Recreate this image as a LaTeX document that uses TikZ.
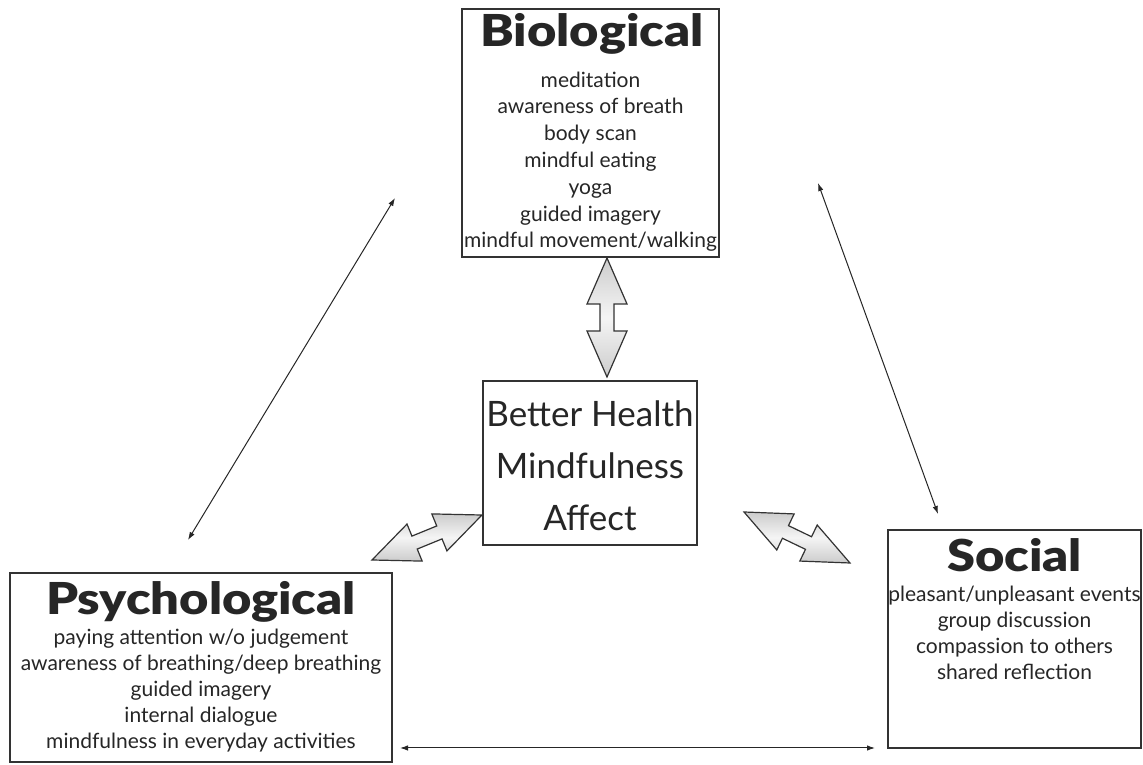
\documentclass[tikz,border=0pt]{standalone}
\usepackage{fontspec}
\setmainfont{Lato}
\IfFontExistsTF{Lato Black}{\newfontfamily\titlefont{Lato Black}[FakeStretch=1.15]}{\newfontfamily\titlefont{Lato}[FakeStretch=1.15,UprightFont=*-Bold]}
\usetikzlibrary{arrows.meta}
\newcommand{\blockarrow}[4]{%
  \begin{scope}[shift={(#1,#2)},rotate=#3]
    \path[blk] (0,0) -- (46,20) -- (46,7) -- ({#4-46},7) -- ({#4-46},20) -- (#4,0)
      -- ({#4-46},-20) -- ({#4-46},-7) -- (46,-7) -- (46,-20) -- cycle;
  \end{scope}}
\begin{document}
\begin{tikzpicture}[x=1pt,y=1pt,
  box/.style={draw=black!80,line width=1.6pt,inner sep=0pt},
  ttl/.style={font=\titlefont\fontsize{44}{48}\selectfont,text=black!85,inner sep=0pt,anchor=base},
  body/.style={text=black!85,inner sep=0pt,align=center,anchor=base},
  ctr/.style={font=\fontsize{35}{52}\selectfont,text=black!85,inner sep=0pt,align=center,anchor=base},
  thinarrow/.style={line width=1pt,draw=black!85,{Latex[length=8pt,width=5.5pt]}-{Latex[length=8pt,width=5.5pt]}},
  blk/.style={draw=black!80,line width=1.2pt,line join=miter,top color=gray!40,bottom color=gray!40,middle color=gray!8}]
\useasboundingbox[fill=white] (0,0) rectangle (1143,765);

% boxes
\node[box,minimum width=257,minimum height=248] (bio) at (590.5,632) {};
\node[box,minimum width=214,minimum height=164] (ctrbox) at (590,302) {};
\node[box,minimum width=382,minimum height=189] (psy) at (201,97.5) {};
\node[box,minimum width=253,minimum height=218] (soc) at (1014.5,126) {};

% texts (base anchor = baseline of last line)
\node[ttl] (biot) at (592,718) {Biological};
\node[body,font=\fontsize{21}{26.8}\selectfont] (biob) at (590.5,517) {meditation\\awareness of breath\\body scan\\mindful eating\\yoga\\guided imagery\\mindful movement/walking};
\node[ctr] (ctrt) at (590,234) {Better Health\\Mindfulness\\Affect};
\node[ttl] (psyt) at (201,150) {Psychological};
\node[body,font=\fontsize{21}{26.2}\selectfont] (psyb) at (201,16) {paying attention w/o judgement\\awareness of breathing/deep breathing\\guided imagery\\internal dialogue\\mindfulness in everyday activities};
\node[ttl] (soct) at (1014.5,193) {Social};
\node[body,font=\fontsize{21}{26}\selectfont] (socb) at (1014.5,85) {pleasant/unpleasant events\\group discussion\\compassion to others\\shared reflection};

% block arrows
\blockarrow{607}{388}{90}{119}
\blockarrow{372}{205}{22.25}{118.8}
\blockarrow{744}{253}{-25.7}{117.6}

% thin arrows
\coordinate (pb1) at (188,225);
\coordinate (pb2) at (395,567);
\coordinate (bs1) at (818,582);
\coordinate (bs2) at (938,251);
\coordinate (ps1) at (400,17);
\coordinate (ps2) at (875,17);
\draw[thinarrow] (pb1) -- (pb2);
\draw[thinarrow] (bs1) -- (bs2);
\draw[thinarrow] (ps1) -- (ps2);
\end{tikzpicture}
\end{document}
